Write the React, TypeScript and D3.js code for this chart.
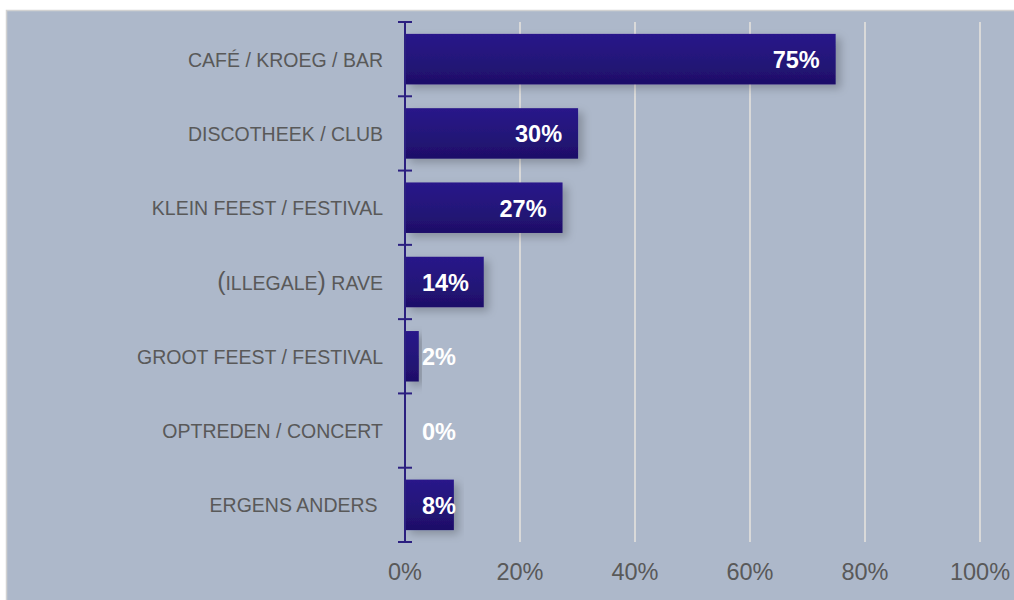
import React from "react";
import * as d3 from "d3";

const categories = [
  "CAFÉ / KROEG / BAR",
  "DISCOTHEEK / CLUB",
  "KLEIN FEEST / FESTIVAL",
  "(ILLEGALE) RAVE",
  "GROOT FEEST / FESTIVAL",
  "OPTREDEN / CONCERT",
  "ERGENS ANDERS ",
];
const values = [74.9, 30.1, 27.4, 13.7, 2.4, 0, 8.5];
const valueLabels = ["75%", "30%", "27%", "14%", "2%", "0%", "8%"];
const xTicks = [0, 20, 40, 60, 80, 100];

const W = 1014;
const H = 600;
const plotLeft = 405;
const plotRight = 980;
const plotTop = 22;
const plotBottom = 542;

export default function App() {
  const x = d3.scaleLinear().domain([0, 100]).range([plotLeft, plotRight]);
  const y = d3
    .scaleBand<string>()
    .domain(categories)
    .range([plotTop, plotBottom])
    .paddingInner(0.32)
    .paddingOuter(0.16);
  const step = y.step();
  const valFont = 23.5;
  const labelWidth = (s: string) => ((s.length - 1) * 0.556 + 0.889) * valFont;

  const renderLabel = (s: string) =>
    s.split(/([()])/).filter((p) => p.length > 0).map((p, i) =>
      p === "(" || p === ")" ? (
        <tspan key={i} fontSize={25}>{p}</tspan>
      ) : (
        <tspan key={i}>{p}</tspan>
      )
    );

  return (
    <div style={{ position: "absolute", left: 0, top: 0 }}>
      <svg width={W} height={H} style={{ display: "block" }}>
        <defs>
          <linearGradient id="barGrad" x1="0" y1="0" x2="0" y2="1">
            <stop offset="0" stopColor="#29198a" />
            <stop offset="0.5" stopColor="#24157a" />
            <stop offset="1" stopColor="#1e0f68" />
          </linearGradient>
          <filter id="shadow" x="-10%" y="-30%" width="130%" height="180%">
            <feDropShadow dx="5" dy="4" stdDeviation="4.5" floodColor="#000" floodOpacity="0.22" />
          </filter>
        </defs>
        <rect x={6.5} y={10.5} width={W + 10} height={H + 10} fill="#adb8ca" stroke="#d2d2d2" strokeWidth={1.5} />

        {/* gridlines */}
        {xTicks.filter((t) => t > 0).map((t) => (
          <line key={t} x1={x(t)} x2={x(t)} y1={plotTop} y2={plotBottom} stroke="#d9d9d9" strokeWidth={2} />
        ))}

        {/* bars */}
        {categories.map((c, i) => {
          const v = values[i];
          const y0 = y(c)!;
          const w = x(v) - x(0);
          return w > 0 ? (
            <rect key={c} x={x(0)} y={y0} width={w} height={y.bandwidth()} fill="url(#barGrad)" filter="url(#shadow)" />
          ) : null;
        })}

        {/* axis */}
        <line x1={plotLeft} x2={plotLeft} y1={plotTop} y2={plotBottom} stroke="#2b1f80" strokeWidth={2} />
        {d3.range(categories.length + 1).map((i) => (
          <line key={i} x1={398} x2={412} y1={plotTop + i * step} y2={plotTop + i * step} stroke="#2b1f80" strokeWidth={2} />
        ))}

        {/* category labels */}
        {categories.map((c) => (
          <text
            key={c}
            x={383}
            y={y(c)! + y.bandwidth() / 2 + 7.5}
            textAnchor="end"
            fontFamily="'Liberation Sans', Arial, sans-serif"
            fontSize={19.5}
            fill="#595959"
            style={{ whiteSpace: "pre" }}
          >
            {renderLabel(c)}
          </text>
        ))}

        {/* value labels */}
        {categories.map((c, i) => {
          const v = values[i];
          const lab = valueLabels[i];
          const xe = Math.max(x(v) - 16, plotLeft + 17 + labelWidth(lab));
          return (
            <text
              key={c}
              x={xe}
              y={y(c)! + y.bandwidth() / 2 + 9}
              textAnchor="end"
              fontFamily="'Liberation Sans', Arial, sans-serif"
              fontWeight="bold"
              fontSize={valFont}
              fill="#ffffff"
            >
              {lab}
            </text>
          );
        })}

        {/* x tick labels */}
        {xTicks.map((t) => (
          <text
            key={t}
            x={x(t)}
            y={579.5}
            textAnchor="middle"
            fontFamily="'Liberation Sans', Arial, sans-serif"
            fontSize={23.5}
            fill="#595959"
          >
            {t}%
          </text>
        ))}
      </svg>
    </div>
  );
}
